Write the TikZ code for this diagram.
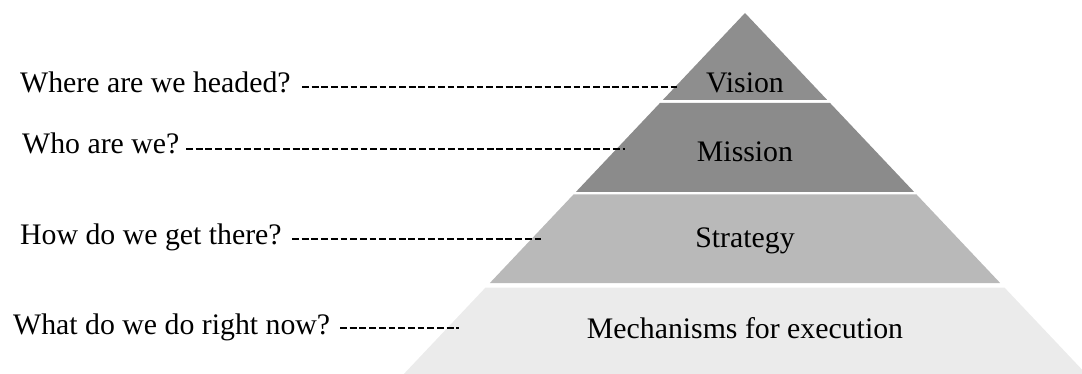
\documentclass[tikz,border=0pt]{standalone}
\usepackage{fontspec}
\setmainfont{Liberation Serif}
\usetikzlibrary{calc}
\definecolor{visiongray}{HTML}{8E8E8E}
\definecolor{missiongray}{HTML}{8B8B8B}
\definecolor{strategygray}{HTML}{B9B9B9}
\definecolor{mechgray}{HTML}{EBEBEB}
% left / right edge of the pyramid at height #1 (apex at 745,13)
\newcommand\pyrL[1]{{745-0.945*((#1)-13)}}
\newcommand\pyrR[1]{{745+0.945*((#1)-13)}}
\begin{document}
\begin{tikzpicture}[x=1pt,y=-1pt,
  lbl/.style={inner sep=0pt, font=\fontsize{29.8}{35}\selectfont, text=black},
  question/.style={lbl, anchor=base west},
  tier/.style={lbl, anchor=base},
  guide/.style={black, line width=2.6pt, dash pattern=on 6.8pt off 2.9pt}]
\useasboundingbox (0,0) rectangle (1082,374);
\clip (0,0) rectangle (1082,374);

% pyramid tiers, separated by thin white gaps
\fill[visiongray] (745,13) -- (\pyrR{100},100) -- (\pyrL{100},100) -- cycle;
\fill[missiongray] (\pyrL{103},103) -- (\pyrR{103},103) -- (\pyrR{192},192) -- (\pyrL{192},192) -- cycle;
\fill[strategygray] (\pyrL{194.5},194.5) -- (\pyrR{194.5},194.5) -- (\pyrR{283},283) -- (\pyrL{283},283) -- cycle;
\fill[mechgray] (\pyrL{287.5},287.5) -- (\pyrR{287.5},287.5) -- (\pyrR{374},374) -- (\pyrL{374},374) -- cycle;

% tier labels
\node[tier] (vision) at (745,93) {Vision};
\node[tier] (mission) at (745,162) {Mission};
\node[tier] (strategy) at (745,248) {Strategy};
\node[tier] (mech) at (745,338) {Mechanisms for execution};

% questions on the left
\node[question] (q1) at (20,93) {Where are we headed?};
\node[question] (q2) at (22,154) {Who are we?};
\node[question] (q3) at (20,245) {How do we get there?};
\node[question] (q4) at (13,334) {What do we do right now?};

% dashed leaders from each question into its tier
\coordinate (s1) at (302,87);  \coordinate (e1) at (680,87);
\coordinate (s2) at (186,149); \coordinate (e2) at (625,149);
\coordinate (s3) at (292,239); \coordinate (e3) at (541,239);
\coordinate (s4) at (340,328); \coordinate (e4) at (459,328);
\draw[guide] (s1) -- (e1);
\draw[guide] (s2) -- (e2);
\draw[guide] (s3) -- (e3);
\draw[guide] (s4) -- (e4);
\end{tikzpicture}
\end{document}
